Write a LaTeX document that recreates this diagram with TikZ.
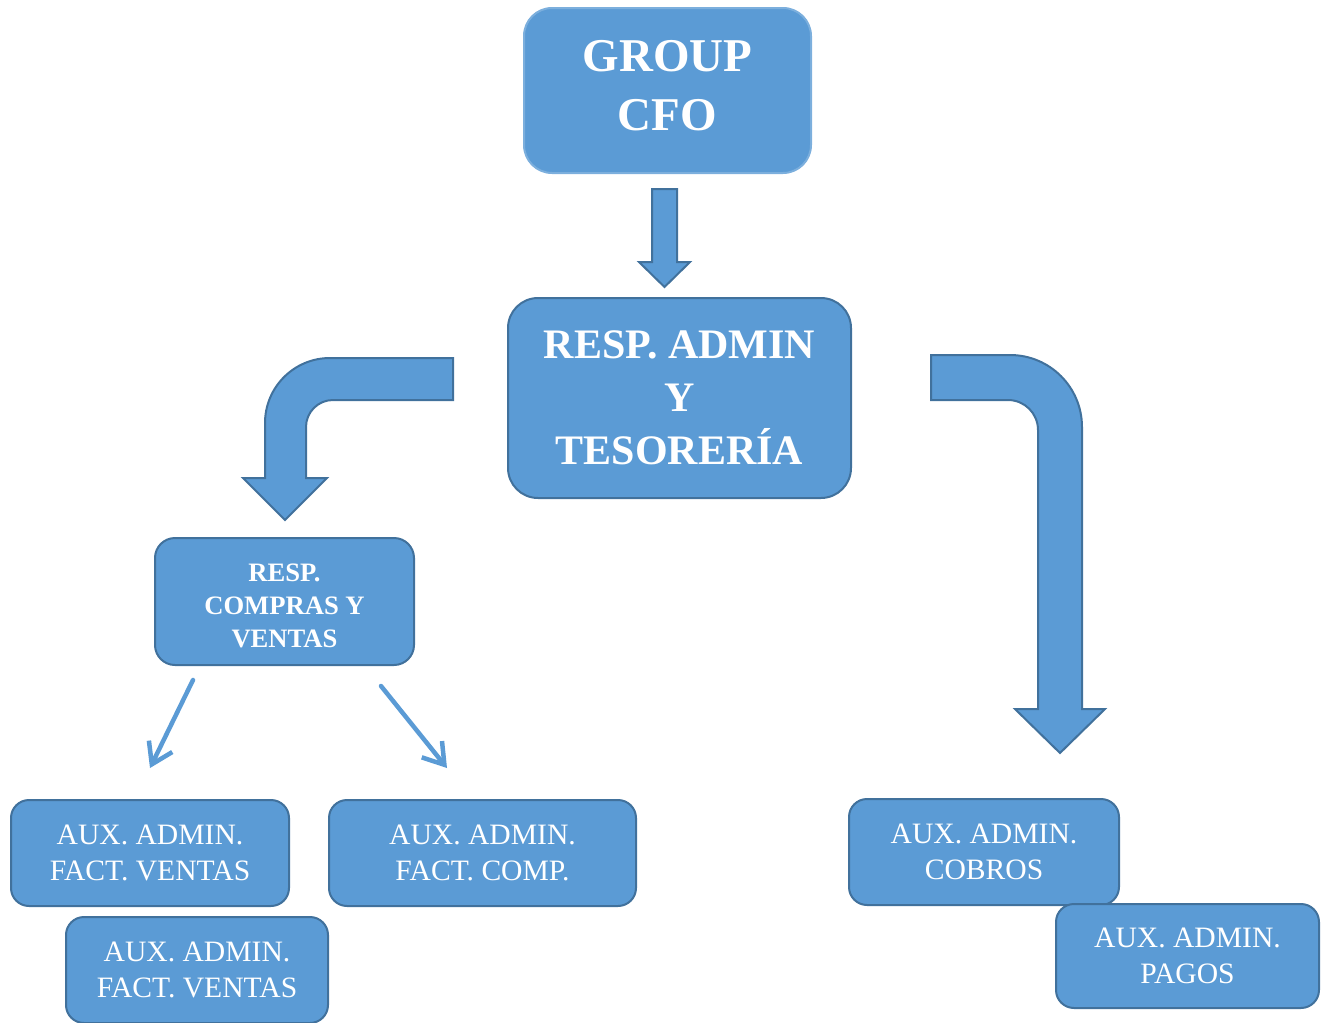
\documentclass[tikz,border=0pt]{standalone}
\usepackage{fontspec}
\setmainfont{Liberation Serif}
\usetikzlibrary{arrows.meta}
\definecolor{orgblue}{HTML}{5B9BD5}
\definecolor{orgedge}{HTML}{41719C}

\begin{document}
\begin{tikzpicture}[x=0.5pt,y=-0.5pt,
  unitbox/.style={draw=orgedge,line width=1pt,fill=orgblue,text=white,align=center,inner sep=0pt,outer sep=0pt},
  cfobox/.style={unitbox,draw=orgblue!80!white,rounded corners=14pt,minimum width=143.5pt,minimum height=82.5pt,text depth=5pt,font=\fontsize{23.5}{29.5}\selectfont\bfseries},
  headbox/.style={unitbox,rounded corners=15pt,minimum width=171.5pt,minimum height=100pt,font=\fontsize{21}{26.5}\selectfont\bfseries},
  respbox/.style={unitbox,rounded corners=10pt,minimum width=129.5pt,minimum height=63.5pt,text height=45.8pt,font=\fontsize{13.3}{16.5}\selectfont\bfseries},
  auxbox/.style={unitbox,rounded corners=9pt,minimum height=53pt,font=\fontsize{14.8}{18}\selectfont},
  blockarr/.style={fill=orgblue,draw=orgedge,line width=1pt},
  thinarr/.style={draw=orgblue,line width=2.25pt,line cap=round,-{Straight Barb[length=10pt,width=13pt]}}]
  \useasboundingbox (0,0) rectangle (1324,1023);
  \node[cfobox] (cfo) at (667.5,90.5) {GROUP\\CFO};
  \node[headbox] (admin) at (679.5,398) {RESP. ADMIN\\Y\\TESORERÍA};
  \node[respbox] (compras) at (284.5,601.5) {RESP.\\COMPRAS Y\\VENTAS};
  \node[auxbox,minimum width=139pt] (fv1) at (150,853) {AUX. ADMIN.\\FACT. VENTAS};
  \node[auxbox,minimum width=153.5pt] (fc) at (482.5,853) {AUX. ADMIN.\\FACT. COMP.};
  \node[auxbox,minimum width=131pt] (fv2) at (197,970) {AUX. ADMIN.\\FACT. VENTAS};
  \node[auxbox,minimum width=135pt] (cobros) at (984,852) {AUX. ADMIN.\\COBROS};
  \node[auxbox,minimum width=131.5pt,minimum height=52pt] (pagos) at (1187.5,956) {AUX. ADMIN.\\PAGOS};
  % block arrows
  \draw[blockarr] (652,189) -- (677,189) -- (677,262) -- (690,262) -- (664.5,287) -- (639,262) -- (652,262) -- cycle;
  \draw[blockarr] (453,358) -- (330,358) .. controls (294.1,358) and (265,387.1) .. (265,423)
    -- (265,478) -- (243,478) -- (285,520) -- (327,478) -- (306,478) -- (306,427)
    .. controls (306,412.1) and (318.1,400) .. (333,400) -- (453,400) -- cycle;
  \draw[blockarr] (931,355) -- (1010,355) .. controls (1049.8,355) and (1082,387.2) .. (1082,427)
    -- (1082,709) -- (1105,709) -- (1060,753) -- (1015,709) -- (1038,709) -- (1038,430)
    .. controls (1038,413.4) and (1024.6,400) .. (1008,400) -- (931,400) -- cycle;
  % thin arrows
  \draw[thinarr] ([shift={(-91.5,15)}]compras.south) -- ([shift={(0,-32)}]fv1.north);
  \draw[thinarr] ([shift={(96.5,21)}]compras.south) -- ([shift={(-35.5,-32)}]fc.north);
\end{tikzpicture}
\end{document}
